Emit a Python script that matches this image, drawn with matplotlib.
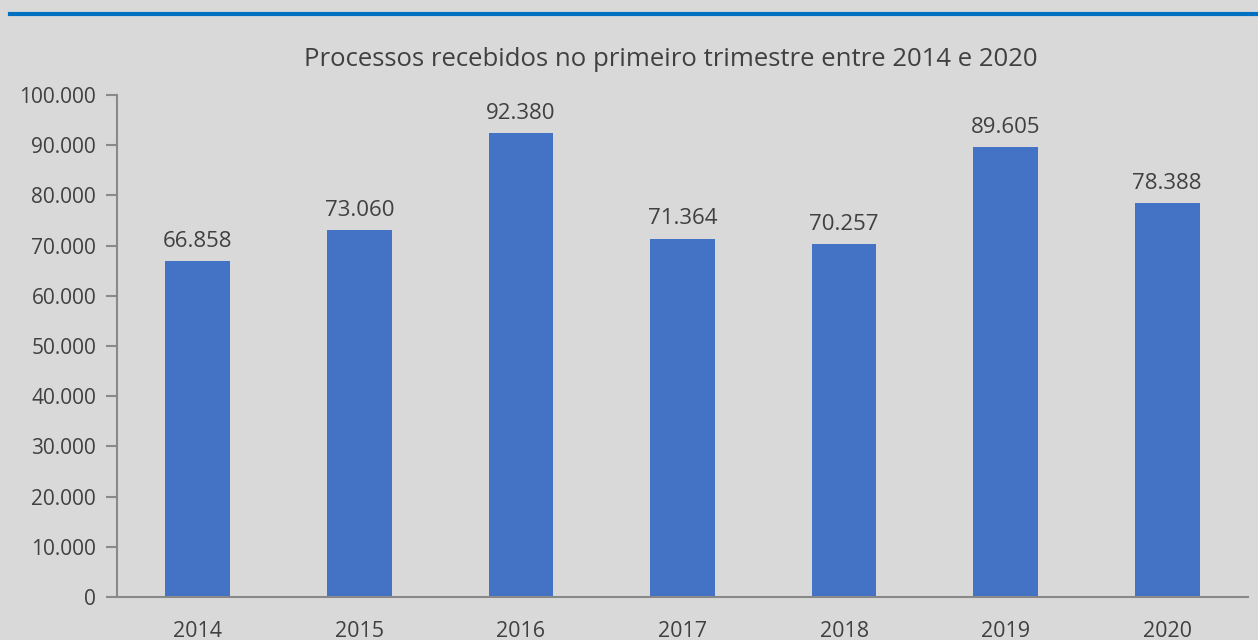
import matplotlib
matplotlib.use("Agg")
import matplotlib.pyplot as plt
from matplotlib.ticker import FuncFormatter
from matplotlib.lines import Line2D

years = ["2014", "2015", "2016", "2017", "2018", "2019", "2020"]
values = [66858, 73060, 92380, 71364, 70257, 89605, 78388]
title = "Processos recebidos no primeiro trimestre entre 2014 e 2020"

bg = "#d9d9d9"
bar_color = "#4472c4"
text_color = "#404040"
axis_color = "#898989"

plt.rcParams['font.family'] = ['Open Sans', 'DejaVu Sans']

fig = plt.figure(figsize=(12.58, 6.4), dpi=100, facecolor=bg)
ax = fig.add_axes([117/1258, 1 - 597/640, (1248-117)/1258, (597-95)/640])
ax.set_facecolor(bg)

def fmt(v):
    return f"{int(round(v)):,}".replace(",", ".")

x = list(range(len(years)))
bars = ax.bar(x, values, width=0.4, color=bar_color, zorder=2)
for xi, v in zip(x, values):
    ax.text(xi, v + 1900, fmt(v), ha="center", va="bottom", fontsize=16, color=text_color)

ax.set_xlim(-0.5, len(years) - 0.5)
ax.set_ylim(0, 100000)
ax.set_yticks(range(0, 100001, 10000))
ax.yaxis.set_major_formatter(FuncFormatter(lambda v, p: fmt(v)))
ax.set_xticks(x)
ax.set_xticklabels(years)

for s in ["top", "right"]:
    ax.spines[s].set_visible(False)
ax.spines["left"].set_color(axis_color)
ax.spines["bottom"].set_color(axis_color)
ax.spines["left"].set_linewidth(1.5)
ax.spines["bottom"].set_linewidth(1.5)
ax.tick_params(axis="y", length=8, width=1.5, color=axis_color, labelsize=15, labelcolor=text_color, pad=7)
ax.tick_params(axis="x", length=0, labelsize=15.5, labelcolor=text_color, pad=17)

fig.text(671/1258, 1 - 60/640, title, ha="center", va="center", fontsize=18.5, color=text_color)

fig.add_artist(Line2D([10/1258, 1], [1 - 14/640, 1 - 14/640], transform=fig.transFigure, color="#0070c0", linewidth=3))

fig.savefig("out.png", dpi=100, facecolor=bg)
